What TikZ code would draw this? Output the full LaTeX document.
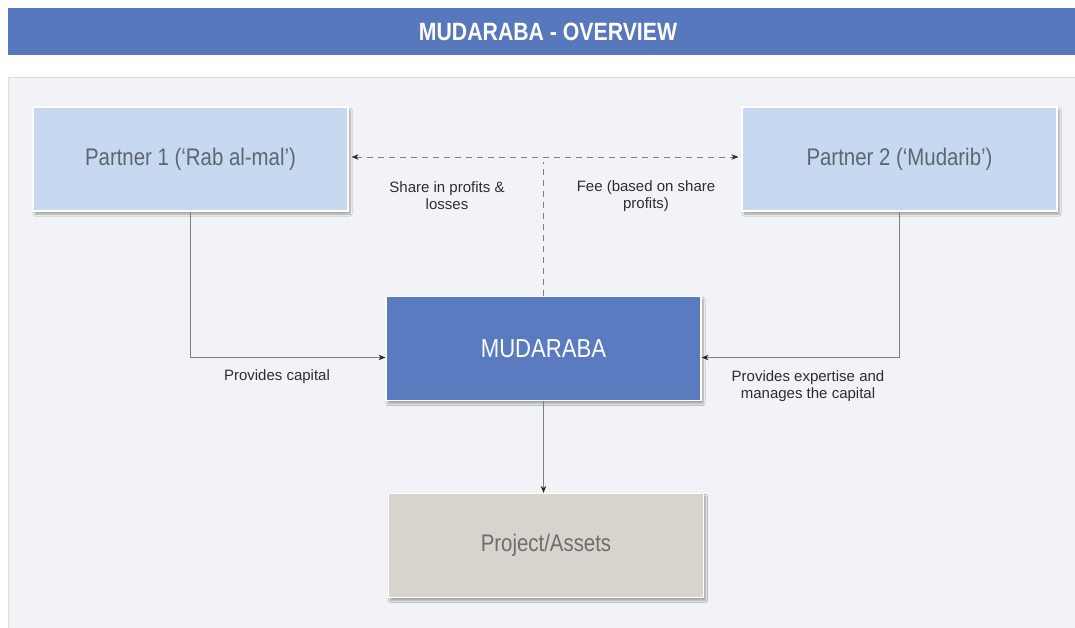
\documentclass[tikz,border=0pt]{standalone}
\usepackage{fontspec}
\setmainfont{Liberation Sans}
\newfontfamily\boxfont{Liberation Sans}[FakeStretch=0.85]
\newfontfamily\titlefont{Liberation Sans}[FakeStretch=0.85]
\usetikzlibrary{arrows.meta,shadows.blur,calc}
\definecolor{bandblue}{HTML}{5878BD}
\definecolor{mudblue}{HTML}{5A7BBF}
\definecolor{lightblue}{HTML}{C6D9F0}
\definecolor{stone}{HTML}{D6D4CD}
\definecolor{panel}{HTML}{F2F3F6}
\definecolor{panelline}{HTML}{D9DCE1}
\definecolor{ptext}{HTML}{5E6670}
\definecolor{projtext}{HTML}{6E6E6E}
\definecolor{lbltext}{HTML}{2E2E2E}
\definecolor{conn}{HTML}{7F7F7F}
\definecolor{tipcol}{HTML}{262626}
\begin{document}
\begin{tikzpicture}[x=1pt,y=-1pt,
  boxbase/.style={rectangle, minimum width=315pt, minimum height=104pt, inner sep=0pt,
    draw=white, line width=1.2pt,
    blur shadow={shadow xshift=2pt, shadow yshift=-3pt, shadow blur steps=6, shadow opacity=35}},
  partnerbox/.style={boxbase, fill=lightblue, text=ptext, font=\boxfont\fontsize{24}{28}\selectfont},
  mudbox/.style={boxbase, fill=mudblue, text=white, font=\boxfont\fontsize{26}{30}\selectfont},
  projbox/.style={boxbase, fill=stone, text=projtext, font=\boxfont\fontsize{24}{28}\selectfont},
  lbl/.style={align=center, text=lbltext, font=\fontsize{15}{17}\selectfont, inner sep=0pt},
  conline/.style={draw=conn, line width=0.9pt},
  tip/.style={-{Stealth[length=7pt,width=5.5pt,color=tipcol]}},
  dashline/.style={conline, dash pattern=on 6pt off 5pt}
]
\useasboundingbox (0,0) rectangle (1075,628);
\fill[white] (0,0) rectangle (1075,628);
% header band
\fill[bandblue] (8,8) rectangle (1075,55);
\node[text=white, font=\titlefont\bfseries\fontsize{25}{28}\selectfont] (title) at (548,32) {MUDARABA - OVERVIEW};
% panel
\fill[panel] (8,77) rectangle (1075,628);
\draw[panelline, line width=0.8pt] (8.5,628) -- (8.5,77) -- (1075,77);

% boxes
\node[partnerbox] (p1) at (190.5,159) {Partner 1 (‘Rab al-mal’)};
\node[partnerbox] (p2) at (899.5,159) {Partner 2 (‘Mudarib’)};
\node[mudbox] (mud) at (543.5,348.5) {MUDARABA};
\node[projbox] (proj) at (546,545.5) {Project/Assets};

% connectors
\coordinate (dl) at ($(p1.east)+(3pt,2pt)$);
\coordinate (dr) at ($(p2.west)+(-3pt,2pt)$);
\draw[dashline, {Stealth[length=7pt,width=5.5pt,color=tipcol]}-{Stealth[length=7pt,width=5.5pt,color=tipcol]}] (dl) -- (dr);
\coordinate (dtop) at ($(mud.north |- dl)+(0,-5pt)$);
\draw[dashline] (mud.north) -- (dtop);

\draw[conline, tip] (p1.south) |- ([yshift=-9pt]mud.west);
\draw[conline, tip] (p2.south) |- ([yshift=-9pt]mud.east);
\draw[conline, tip] (mud.south) -- (mud.south |- proj.north);

% labels
\node[lbl] (l1) at (447,196) {Share in profits \&\\losses};
\node[lbl] (l2) at (646,196) {Fee (based on share\\profits)};
\node[lbl] (l3) at (277,377) {Provides capital};
\node[lbl] (l4) at (808,386) {Provides expertise and\\manages the capital};
\end{tikzpicture}
\end{document}
